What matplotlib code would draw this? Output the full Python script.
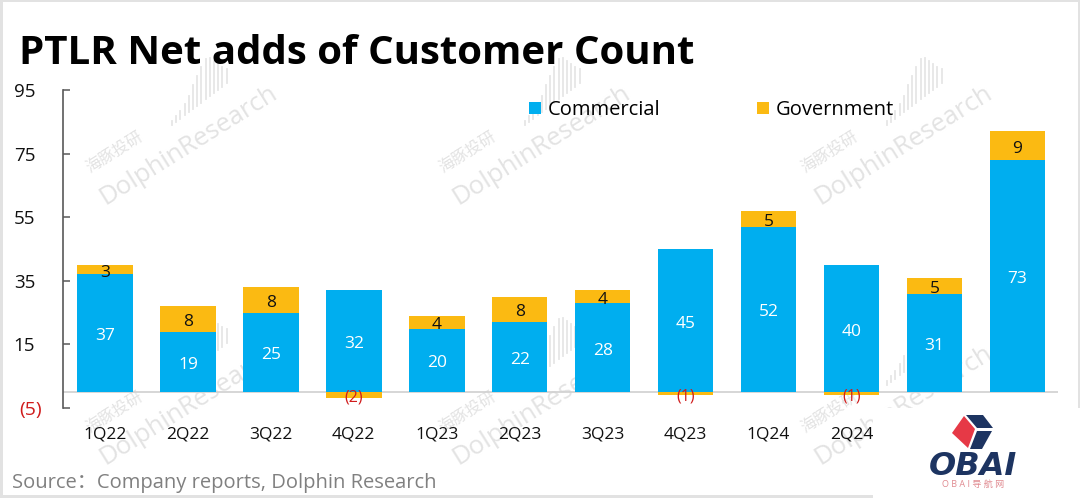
#!/usr/bin/env python3

"""PTLR net adds of customer count, stacked by segment."""

import matplotlib

matplotlib.use("Agg")
from matplotlib import pyplot as plt
from matplotlib.patches import Polygon, Rectangle
from matplotlib.transforms import ScaledTranslation

quarters = ["1Q22", "2Q22", "3Q22", "4Q22", "1Q23", "2Q23", "3Q23", "4Q23", "1Q24", "2Q24", "", ""]
commercial = [37, 19, 25, 32, 20, 22, 28, 45, 52, 40, 31, 73]
government = [3, 8, 8, -2, 4, 8, 4, -1, 5, -1, 5, 9]
y_ticks = [-5, 15, 35, 55, 75, 95]
y_tick_labels = ["(5)", "15", "35", "55", "75", "95"]

BLUE = "#00AEEF"
YELLOW = "#FBBA12"
RED = "#d01c1c"
W, H = 1080, 498

plt.rcParams["font.family"] = ["Open Sans", "Noto Sans CJK SC", "DejaVu Sans"]


def fx(px):
    return px / W


def fy(py):
    return 1 - py / H


def add_watermark(fig, x, y):
    """One tile of the faint diagonal watermark, anchored at its lower left."""
    color = "#e3e3e3"
    fig.text(fx(x), fy(y), "DolphinResearch", fontsize=18.5, color=color, rotation=32,
             rotation_mode="anchor", ha="left", va="baseline", zorder=-2)
    fig.text(fx(x - 15), fy(y - 32), "海豚投研", fontsize=11.5, color=color, rotation=32,
             rotation_mode="anchor", ha="left", va="baseline", zorder=-2)
    for i, height in enumerate([4, 6, 8, 11, 16, 24, 30, 36, 40, 38, 32, 26, 20, 14]):
        bx = x + 67 + i * 4.2
        by = y - 80 - i * 3.2
        fig.add_artist(plt.Line2D([fx(bx), fx(bx)], [fy(by), fy(by - height)], color="#e6e6e6",
                                  linewidth=1.3, zorder=-2))


def add_logo(fig):
    """White patch with the OBAI cube logo in the lower right corner."""
    navy = "#1d3461"
    red = "#e63946"
    fig.add_artist(Rectangle((fx(873), fy(498)), 207 / W, 90 / H, transform=fig.transFigure,
                             facecolor="white", edgecolor="none", zorder=6))
    faces = [
        ([(964, 416), (952, 433), (968, 448), (975, 429)], red),
        ([(966, 415), (983, 415), (993, 428), (977, 428)], navy),
        ([(977, 431), (992, 431), (982, 449), (970, 449)], navy),
    ]
    for points, color in faces:
        fig.add_artist(Polygon([(fx(a), fy(b)) for a, b in points], closed=True, transform=fig.transFigure,
                               facecolor=color, edgecolor="none", zorder=7))
    fig.text(fx(973), fy(475), "OBAI", fontsize=23, fontweight="bold", fontstyle="italic", color=navy,
             ha="center", va="baseline", zorder=7, family="DejaVu Sans")
    fig.text(fx(973), fy(487), "O B A I 导 航 网", fontsize=6.5, color="#e08a90", ha="center", va="baseline", zorder=7)


def main():
    fig = plt.figure(figsize=(W / 100, H / 100), dpi=100)
    ax = fig.add_axes([fx(63), fy(408), (1058 - 63) / W, (408 - 90) / H])
    ax.patch.set_visible(False)

    positions = list(range(len(quarters)))
    ax.bar(positions, commercial, width=0.67, color=BLUE, label="Commercial", zorder=2)
    shift = ScaledTranslation(0, -3 / 100, fig.dpi_scale_trans)
    for pos, com, gov in zip(positions, commercial, government):
        bottom = com if gov > 0 else 0
        ax.bar(pos, gov, width=0.67, bottom=bottom, color=YELLOW, zorder=2,
               label="Government" if pos == 0 else None)
        ax.text(pos, com / 2, str(com), color="white", fontsize=12.5, ha="center", va="center", zorder=4,
                transform=ax.transData + shift)
        if gov > 0:
            ax.text(pos, com + gov / 2, str(gov), color="#111111", fontsize=12.5, ha="center", va="center", zorder=4,
                    transform=ax.transData + shift)
        else:
            ax.text(pos, gov / 2 + 0.2, f"({abs(gov)})", color=RED, fontsize=11.5,
                    ha="center", va="center", zorder=4, transform=ax.transData + shift)

    ax.set_xlim(-0.506, 11.49)
    ax.set_ylim(-5, 95)
    ax.axhline(0, color="#d0d0d0", linewidth=1.2, zorder=1)

    for side in ["top", "right", "bottom"]:
        ax.spines[side].set_visible(False)
    ax.spines["left"].set_color("#595959")
    ax.spines["left"].set_linewidth(1.2)

    ax.set_yticks(y_ticks)
    ax.set_yticklabels(y_tick_labels, fontsize=13.5, color="#111111")
    ax.tick_params(axis="y", direction="in", length=5, width=1.1, color="#595959", pad=20)
    low_label = ax.get_yticklabels()[0]
    low_label.set_color(RED)
    low_label.set_fontsize(14)
    low_label.set_transform(low_label.get_transform() + ScaledTranslation(7 / 100, 0, fig.dpi_scale_trans))
    ax.set_xticks(positions)
    ax.set_xticklabels(quarters, fontsize=12.5, color="#111111")
    ax.tick_params(axis="x", length=0, pad=13)

    handles, labels = ax.get_legend_handles_labels()
    ax.legend(handles, labels, ncol=2, loc="upper left", bbox_to_anchor=(0.468, 0.968), frameon=False,
              fontsize=14.5, handlelength=0.6, handleheight=0.6, handletextpad=0.35, columnspacing=4.8,
              borderaxespad=0, borderpad=0)

    fig.text(fx(19), fy(64), "PTLR Net adds of Customer Count", fontsize=29, fontweight="bold",
             color="black", ha="left", va="baseline")
    fig.text(fx(12), fy(488), "Source：Company reports, Dolphin Research", fontsize=14.5, color="#808080",
             ha="left", va="baseline")

    for x, y in [(105, 205), (458, 205), (820, 205), (105, 465), (458, 465), (820, 465)]:
        add_watermark(fig, x, y)

    add_logo(fig)

    # screenshot frame along the edges
    for rect in [(0, 0, 3, 498), (0, 0, 1080, 2), (0, 495, 873, 3), (1078, 0, 2, 408)]:
        x, y, w, h = rect
        fig.add_artist(Rectangle((fx(x), fy(y + h)), w / W, h / H, transform=fig.transFigure,
                                 facecolor="#e2e2e2", edgecolor="none", zorder=5))

    fig.savefig("out.png", dpi=100)
    plt.close(fig)


if __name__ == "__main__":
    main()
